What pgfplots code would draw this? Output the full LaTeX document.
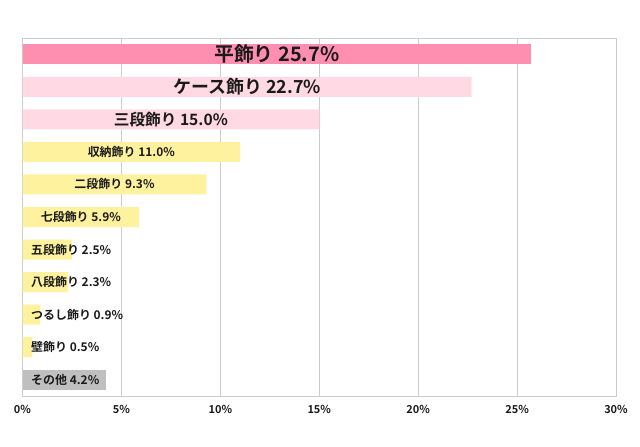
\documentclass[border=0pt]{standalone}
\usepackage{pgfplots}
\pgfplotsset{compat=1.18}
\usepackage{fontspec}
\setmainfont{Noto Sans CJK JP}[BoldFont=* Bold]
\definecolor{pk}{HTML}{FF8FB1}
\definecolor{lpk}{HTML}{FFD9E3}
\definecolor{yl}{HTML}{FFF29E}
\definecolor{gy}{HTML}{BFBFBF}
\definecolor{gridc}{HTML}{CCCCCC}
\definecolor{txt}{HTML}{1A1A1A}
\begin{document}
\begin{tikzpicture}
\begin{axis}[
  scale only axis, width=593.5bp, height=358bp,
  xmin=0, xmax=30, ymin=-0.5, ymax=10.5, y dir=reverse,
  xtick={0,5,10,15,20,25,30},
  xticklabels={0\%,5\%,10\%,15\%,20\%,25\%,30\%},
  ytick=\empty,
  xmajorgrids, grid style={draw=gridc, line width=0.8bp},
  axis line style={draw=gridc, line width=0.8bp},
  major tick length=0pt,
  xticklabel style={font=\bfseries\fontsize{11}{12}\selectfont, text=txt, yshift=-6bp},
  clip=false,
  every node near coord/.append style={text=txt},
]
\addplot[xbar, bar width=20bp, bar shift=0pt, fill=pk, draw=none] coordinates {(25.7,0)};
\addplot[xbar, bar width=20bp, bar shift=0pt, fill=lpk, draw=none] coordinates {(22.7,1) (15.0,2)};
\addplot[xbar, bar width=20bp, bar shift=0pt, fill=yl, draw=none] coordinates {(11.0,3) (9.3,4) (5.9,5) (2.5,6) (2.3,7) (0.9,8) (0.5,9)};
\addplot[xbar, bar width=20bp, bar shift=0pt, fill=gy, draw=none] coordinates {(4.2,10)};
% labels
\addplot[draw=none, mark=none, nodes near coords, point meta=explicit symbolic,
  nodes near coords style={anchor=center, font=\bfseries\fontsize{20}{20}\selectfont}]
  coordinates {(12.85,0) [平飾り 25.7\%]};
\addplot[draw=none, mark=none, nodes near coords, point meta=explicit symbolic,
  nodes near coords style={anchor=center, font=\bfseries\fontsize{18}{18}\selectfont}]
  coordinates {(11.35,1) [ケース飾り 22.7\%]};
\addplot[draw=none, mark=none, nodes near coords, point meta=explicit symbolic,
  nodes near coords style={anchor=center, font=\bfseries\fontsize{15.7}{16}\selectfont}]
  coordinates {(7.5,2) [三段飾り 15.0\%]};
\addplot[draw=none, mark=none, nodes near coords, point meta=explicit symbolic,
  nodes near coords style={anchor=center, font=\bfseries\fontsize{12}{12}\selectfont}]
  coordinates {(5.5,3) [収納飾り 11.0\%] (4.65,4) [二段飾り 9.3\%] (2.95,5) [七段飾り 5.9\%]};
\addplot[draw=none, mark=none, nodes near coords, point meta=explicit symbolic,
  nodes near coords style={anchor=west, inner sep=0pt, font=\bfseries\fontsize{12}{12}\selectfont}]
  coordinates {(0.43,6) [五段飾り 2.5\%] (0.43,7) [八段飾り 2.3\%] (0.43,8) [つるし飾り 0.9\%] (0.43,9) [壁飾り 0.5\%] (0.43,10) [その他 4.2\%]};
\coordinate (sw) at (rel axis cs:0,0);
\coordinate (ne) at (rel axis cs:1,1);
\end{axis}
\path ([shift={(-22.5bp,-51bp)}]sw) rectangle ([shift={(24bp,38bp)}]ne);
\end{tikzpicture}
\end{document}
